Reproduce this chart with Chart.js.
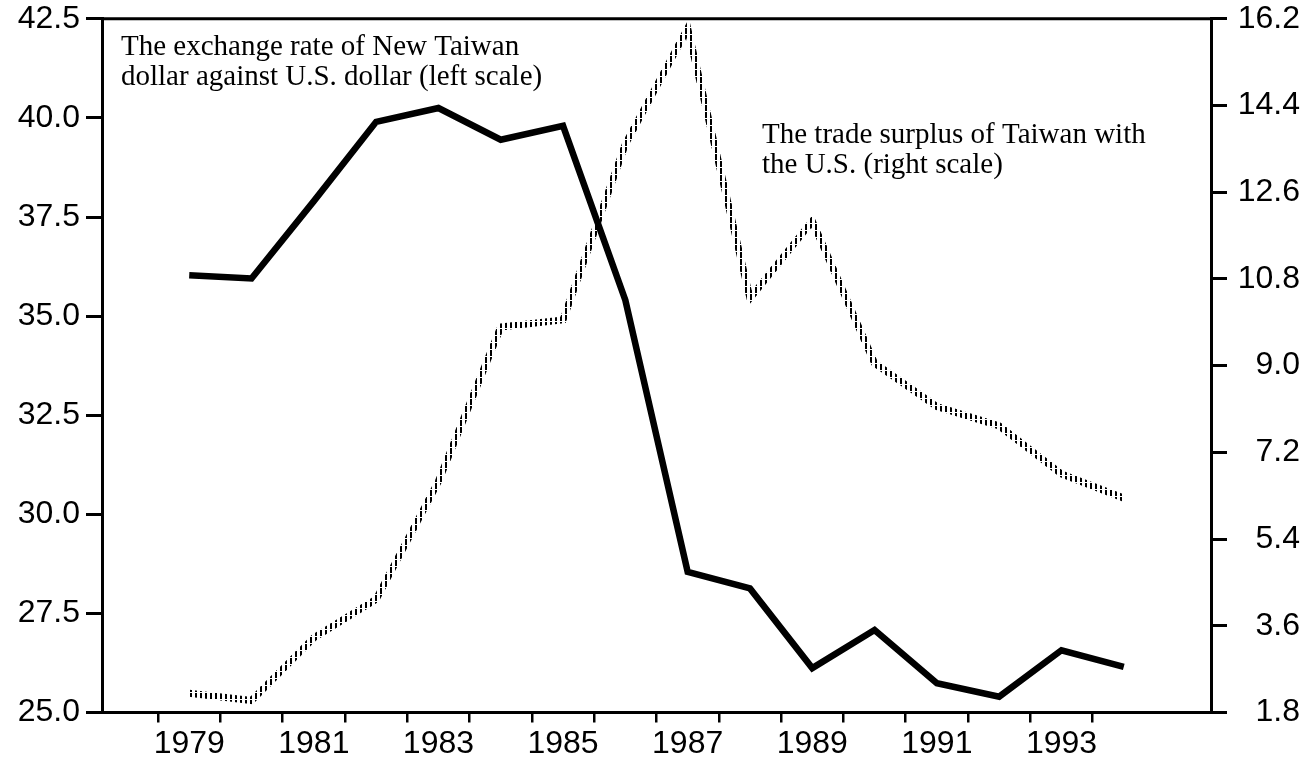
<!DOCTYPE html>
<html>
<head>
<meta charset="utf-8">
<script src="https://cdn.jsdelivr.net/npm/chart.js@4.4.1/dist/chart.umd.min.js"></script>
<style>
  html, body { margin: 0; padding: 0; background: #fff; }
  #wrap { width: 1309px; height: 760px; }
</style>
</head>
<body>
<div id="wrap"><canvas id="chart" width="1309" height="760"></canvas></div>
<script>
const years = [1979, 1980, 1981, 1982, 1983, 1984, 1985, 1986, 1987, 1988, 1989, 1990, 1991, 1992, 1993, 1994]
// NT$ per US$ (left scale)
const exchangeRate = [36.03, 35.95, 37.9, 39.9, 40.25, 39.45, 39.8, 35.4, 28.55, 28.13, 26.12, 27.08, 25.74, 25.4, 26.57, 26.15]
// trade surplus with the U.S., US$ billion (right scale)
const tradeSurplus = [2.2, 2.05, 3.35, 4.15, 6.6, 9.8, 9.95, 13.6, 16.0, 10.4, 12.0, 9.05, 8.15, 7.75, 6.75, 6.25]

const leftTicks = [25.0, 27.5, 30.0, 32.5, 35.0, 37.5, 40.0, 42.5]
const rightTicks = [1.8, 3.6, 5.4, 7.2, 9.0, 10.8, 12.6, 14.4, 16.2]
const yearLabels = [1979, 1981, 1983, 1985, 1987, 1989, 1991, 1993]
const yearMarks = [1978.5, 1979.5, 1980.5, 1981.5, 1982.5, 1983.5, 1984.5, 1985.5, 1986.5, 1987.5, 1988.5, 1989.5, 1990.5, 1991.5, 1992.5, 1993.5]

const notes = [
  { lines: ['The exchange rate of New Taiwan', 'dollar against U.S. dollar (left scale)'], dx: 19, dy: 36 },
  { lines: ['The trade surplus of Taiwan with', 'the U.S. (right scale)'], dx: 660, dy: 124 }
]

const canvas = document.getElementById('chart')
const ctx = canvas.getContext('2d')

// grey hatched stroke like the printed dotted line
function hatch() {
  const c = document.createElement('canvas')
  c.width = 5
  c.height = 7
  const g = c.getContext('2d')
  g.fillStyle = '#000'
  g.fillRect(0, 0, 2, 6)
  return ctx.createPattern(c, 'repeat')
}

const family = '"Liberation Sans", Arial, Helvetica, sans-serif'
const xFont = { family, size: 32, lineHeight: 1 }
const yFont = { family, size: 32, lineHeight: 0.8 }

const frame = {
  id: 'frame',
  afterDraw(chart) {
    const { ctx, chartArea } = chart
    ctx.save()
    ctx.strokeStyle = '#000'
    ctx.lineWidth = 3
    ctx.beginPath()
    ctx.moveTo(chartArea.left, chartArea.top)
    ctx.lineTo(chartArea.right, chartArea.top)
    ctx.stroke()

    ctx.fillStyle = '#000'
    ctx.font = '29px "Liberation Serif", "Times New Roman", serif'
    ctx.textBaseline = 'alphabetic'
    notes.forEach(n => {
      n.lines.forEach((t, i) => {
        ctx.fillText(t, chartArea.left + n.dx, chartArea.top + n.dy + i * 30)
      })
    })
    ctx.restore()
  }
}

Chart.defaults.color = '#000'

new Chart(canvas, {
  type: 'line',
  data: {
    datasets: [
      {
        label: 'Exchange rate',
        data: years.map((y, i) => ({ x: y, y: exchangeRate[i] })),
        yAxisID: 'y',
        borderColor: '#000',
        borderWidth: 6.5,
        borderJoinStyle: 'miter',
        pointRadius: 0,
        tension: 0
      },
      {
        label: 'Trade surplus',
        data: years.map((y, i) => ({ x: y, y: tradeSurplus[i] })),
        yAxisID: 'y1',
        borderColor: hatch(),
        borderWidth: 7,
        pointRadius: 0,
        tension: 0
      }
    ]
  },
  options: {
    responsive: false,
    animation: false,
    devicePixelRatio: 1,
    layout: { padding: { top: 0, left: 0, right: 9, bottom: 0 } },
    plugins: { legend: { display: false }, tooltip: { enabled: false } },
    scales: {
      x: {
        type: 'linear',
        min: 1977.6,
        max: 1995.4,
        afterBuildTicks: axis => {
          axis.ticks = [...yearMarks, ...yearLabels].sort((a, b) => a - b).map(v => ({ value: v }))
        },
        afterFit: axis => { axis.height = 47.5 },
        ticks: {
          autoSkip: false,
          maxRotation: 0,
          padding: 6,
          font: xFont,
          callback: v => yearLabels.includes(v) ? String(v) : ''
        },
        grid: {
          drawOnChartArea: false,
          tickLength: 10,
          lineWidth: 2.5,
          tickColor: c => (c.tick && yearLabels.includes(c.tick.value)) ? 'rgba(0,0,0,0)' : '#000'
        },
        border: { display: true, color: '#000', width: 3 }
      },
      y: {
        position: 'left',
        min: 25,
        max: 42.5,
        afterBuildTicks: axis => { axis.ticks = leftTicks.map(v => ({ value: v })) },
        afterFit: axis => { axis.width = 102 },
        ticks: { padding: 6, font: yFont, callback: v => v.toFixed(1) },
        grid: { drawOnChartArea: false, tickLength: 16, lineWidth: 3, color: '#000' },
        border: { display: true, color: '#000', width: 3 }
      },
      y1: {
        position: 'right',
        min: 1.8,
        max: 16.2,
        afterBuildTicks: axis => { axis.ticks = rightTicks.map(v => ({ value: v })) },
        afterFit: axis => { axis.width = 89 },
        ticks: { padding: 3, crossAlign: 'far', font: yFont, callback: v => v.toFixed(1) },
        grid: { drawOnChartArea: false, tickLength: 16, lineWidth: 3, color: '#000' },
        border: { display: true, color: '#000', width: 3 }
      }
    }
  },
  plugins: [frame]
})
</script>
</body>
</html>
